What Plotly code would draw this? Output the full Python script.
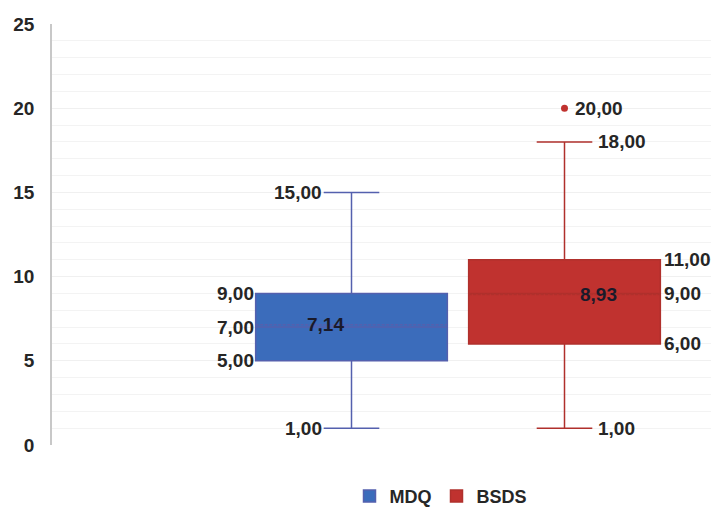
import plotly.graph_objects as go

series = ["MDQ", "BSDS"]
mins = [1.0, 1.0]
q1s = [5.0, 6.0]
medians = [7.0, 9.0]
q3s = [9.0, 11.0]
maxs = [15.0, 18.0]
means = [7.14, 8.93]
outliers = [[], [20.0]]
fill_colors = ["#3b6cbb", "#c0322f"]
line_colors = ["#5460ae", "#b0302c"]
y_ticks = [0, 5, 10, 15, 20, 25]

def fmt(v):
    return f"{v:.2f}".replace(".", ",")

BOXGAP = 0.3
GROUPGAP = 0.1
WHISKER = 0.29

fig = go.Figure()
for i, name in enumerate(series):
    kw = {}
    if outliers[i]:
        kw["y"] = [outliers[i]]
        kw["boxpoints"] = "outliers"
    else:
        kw["boxpoints"] = False
    fig.add_trace(go.Box(
        name=name,
        x=[""],
        q1=[q1s[i]], median=[medians[i]], q3=[q3s[i]],
        lowerfence=[mins[i]], upperfence=[maxs[i]], mean=[means[i]],
        pointpos=0, jitter=0,
        fillcolor=fill_colors[i],
        line=dict(color=line_colors[i], width=1.5),
        marker=dict(color=fill_colors[i], size=7),
        whiskerwidth=WHISKER,
        offsetgroup=str(i),
        hoverinfo="skip",
        **kw,
    ))

slot = (1 - BOXGAP) / 2
half_w = slot * (1 - GROUPGAP) / 2
cap_half = half_w * WHISKER
FAM = "Liberation Sans, Arial, sans-serif"
FS = 19
font = dict(family=FAM, size=FS, color="#262626", weight="bold")

annotations = []
for i, name in enumerate(series):
    c = -slot / 2 if i == 0 else slot / 2
    if i == 0:
        side_x, anch, sh = c - half_w, "right", 0
        cap_x = c - cap_half
        mean_x, mean_anch, msh = c, "right", -6
    else:
        side_x, anch, sh = c + half_w, "left", 2
        cap_x = c + cap_half
        mean_x, mean_anch, msh = c, "left", 13
    for v in (q1s[i], medians[i], q3s[i]):
        annotations.append(dict(x=side_x, y=v, xref="x", yref="y", text=fmt(v),
                                showarrow=False, xanchor=anch, xshift=sh, font=font))
    for v in (mins[i], maxs[i]):
        annotations.append(dict(x=cap_x, y=v, xref="x", yref="y", text=fmt(v),
                                showarrow=False, xanchor=anch, xshift=sh + (2 if i else 0), font=font))
    annotations.append(dict(x=mean_x, y=means[i], xref="x", yref="y", text=fmt(means[i]),
                            showarrow=False, xanchor=mean_anch, xshift=msh,
                            font=dict(family=FAM, size=FS, color="#1a1a2a", weight="bold")))
    for v in outliers[i]:
        annotations.append(dict(x=c, y=v, xref="x", yref="y", text=fmt(v),
                                showarrow=False, xanchor="left", xshift=8, font=font))

# the page body adds an 8px margin, so the figure is drawn 8px smaller and shifted
OFF = 8
W, H = 719 - OFF, 508 - OFF
U = 213 / slot
left_px, center_px, right_px = 52 - OFF, 458 - OFF, W
plot_top, plot_bot = 24 - OFF, 445 - OFF
fig.update_layout(
    width=W, height=H,
    margin=dict(l=left_px, r=0, t=plot_top, b=H - plot_bot, autoexpand=False),
    paper_bgcolor="white", plot_bgcolor="white",
    boxmode="group", boxgap=BOXGAP, boxgroupgap=GROUPGAP,
    showlegend=True,
    legend=dict(orientation="h", x=(441 - OFF - left_px) / (W - left_px), xanchor="center",
                y=-0.078, yanchor="top",
                font=dict(family=FAM, size=18, color="#262626", weight="bold"),
                itemwidth=30, tracegroupgap=0),
    xaxis=dict(type="category", range=[-(center_px - left_px) / U, (right_px - center_px) / U],
               showticklabels=False, showgrid=False, zeroline=False, showline=False),
    yaxis=dict(range=[0, 25], tickvals=y_ticks, showline=True, linecolor="#c8c8c8", linewidth=1.5,
               gridcolor="#f0f0f0", zeroline=False, ticklabelstandoff=12,
               tickfont=dict(family=FAM, size=19, color="#262626", weight="bold"),
               minor=dict(dtick=1, showgrid=True, gridcolor="#f3f3f3")),
    annotations=annotations,
)
fig.write_html("out.html")
